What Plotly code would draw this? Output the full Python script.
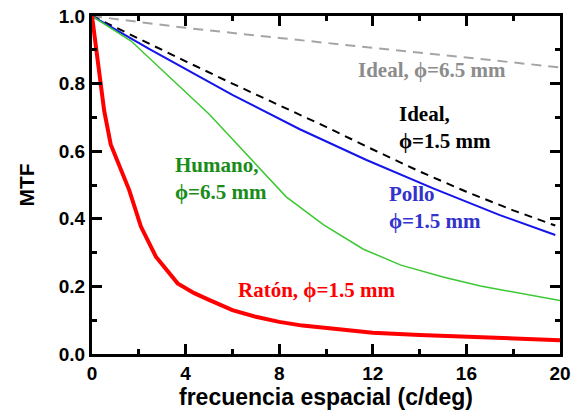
import plotly.graph_objects as go

# Data
x_raton = [0, 0.23, 0.52, 0.8, 1.23, 1.59, 2.09, 2.73, 3.66, 4.37, 5.0, 6.0, 7.0, 8.0, 9.0, 10.0, 12.0, 14.0, 16.0, 18.0, 20.0]
y_raton = [1.0, 0.87, 0.72, 0.62, 0.544, 0.485, 0.377, 0.288, 0.209, 0.18, 0.16, 0.13, 0.11, 0.095, 0.084, 0.076, 0.063, 0.056, 0.051, 0.046, 0.041]

x_humano = [0, 1.67, 5.0, 8.3, 9.9, 11.6, 13.2, 15.0, 16.6, 18.3, 20.0]
y_humano = [1.0, 0.926, 0.71, 0.465, 0.382, 0.31, 0.263, 0.228, 0.201, 0.18, 0.158]

x_pollo = [0, 1.67, 2.46, 6.02, 8.88, 11.73, 14.58, 17.43, 19.8]
y_pollo = [1.0, 0.932, 0.902, 0.766, 0.665, 0.574, 0.49, 0.411, 0.352]

x_ideal15 = [0, 2, 4, 6, 8, 10, 12, 14, 16, 18, 19.8]
y_ideal15 = [1.0, 0.932, 0.866, 0.8, 0.737, 0.672, 0.605, 0.54, 0.48, 0.425, 0.38]

x_ideal65 = [0, 4, 8, 12, 16, 20]
y_ideal65 = [1.0, 0.965, 0.935, 0.905, 0.877, 0.848]

x_ticks = [0, 4, 8, 12, 16, 20]
y_ticks = [0.0, 0.2, 0.4, 0.6, 0.8, 1.0]

PHI = "\u03d5"

fig = go.Figure()
fig.add_trace(go.Scatter(x=x_ideal65, y=y_ideal65, mode="lines",
                         line=dict(color="rgb(165,165,165)", width=2, dash="10px,7px")))
fig.add_trace(go.Scatter(x=x_ideal15, y=y_ideal15, mode="lines",
                         line=dict(color="black", width=2, dash="8px,6px")))
fig.add_trace(go.Scatter(x=x_pollo, y=y_pollo, mode="lines",
                         line=dict(color="rgb(20,20,235)", width=2)))
fig.add_trace(go.Scatter(x=x_humano, y=y_humano, mode="lines",
                         line=dict(color="rgb(60,200,50)", width=1.5)))
fig.add_trace(go.Scatter(x=x_raton, y=y_raton, mode="lines",
                         line=dict(color="rgb(255,0,0)", width=4)))

lab_font = "Liberation Serif"
anns = [
    dict(x=14.55, y=0.84, text=f"Ideal, {PHI}=6.5 mm", color="rgb(140,140,140)", xanchor="center"),
    dict(x=13.02, y=0.669, text=f"Ideal,<br>{PHI}=1.5 mm", color="black", xanchor="left"),
    dict(x=12.6, y=0.432, text=f"Pollo<br>{PHI}=1.5 mm", color="rgb(50,50,205)", xanchor="left"),
    dict(x=3.44, y=0.518, text=f"Humano,<br>{PHI}=6.5 mm", color="rgb(25,140,25)", xanchor="left"),
    dict(x=6.17, y=0.189, text=f"Ratón, {PHI}=1.5 mm", color="rgb(255,0,0)", xanchor="left"),
]
for a in anns:
    fig.add_annotation(x=a["x"], y=a["y"], xref="x", yref="y", text=f"<b>{a['text']}</b>",
                       showarrow=False, xanchor=a["xanchor"], yanchor="middle", align="left",
                       font=dict(family=lab_font, size=21, color=a["color"]))

axis_common = dict(
    showline=True, linecolor="black", linewidth=3, mirror="allticks",
    ticks="inside", ticklen=10, tickwidth=3, tickcolor="black",
    showgrid=False, zeroline=False, automargin=False,
    tickfont=dict(family="Liberation Sans", size=19, color="black", weight="bold"),
)

fig.update_xaxes(range=[0, 20], tickvals=x_ticks, ticktext=[str(v) for v in x_ticks],
                 minor=dict(ticks="inside", ticklen=5, tickwidth=2.5, tickcolor="black", dtick=2, tick0=0),
                 title=dict(text="<b>frecuencia espacial (c/deg)</b>", standoff=4,
                            font=dict(family="Liberation Sans", size=23, color="black")),
                 **axis_common)
fig.update_yaxes(range=[0, 1], tickvals=y_ticks, ticktext=[f"{v:.1f}" for v in y_ticks],
                 minor=dict(ticks="inside", ticklen=5, tickwidth=2.5, tickcolor="black", dtick=0.1, tick0=0),
                 title=dict(text="<b>MTF</b>", standoff=19,
                            font=dict(family="Liberation Sans", size=21, color="black")),
                 **axis_common)

fig.update_layout(width=577, height=412, showlegend=False,
                  margin=dict(l=92, r=17, t=16, b=58),
                  plot_bgcolor="white", paper_bgcolor="white")

fig.write_html("out.html", config={"displayModeBar": False},
               post_script="document.body.style.margin='0';document.body.style.overflow='hidden';")
